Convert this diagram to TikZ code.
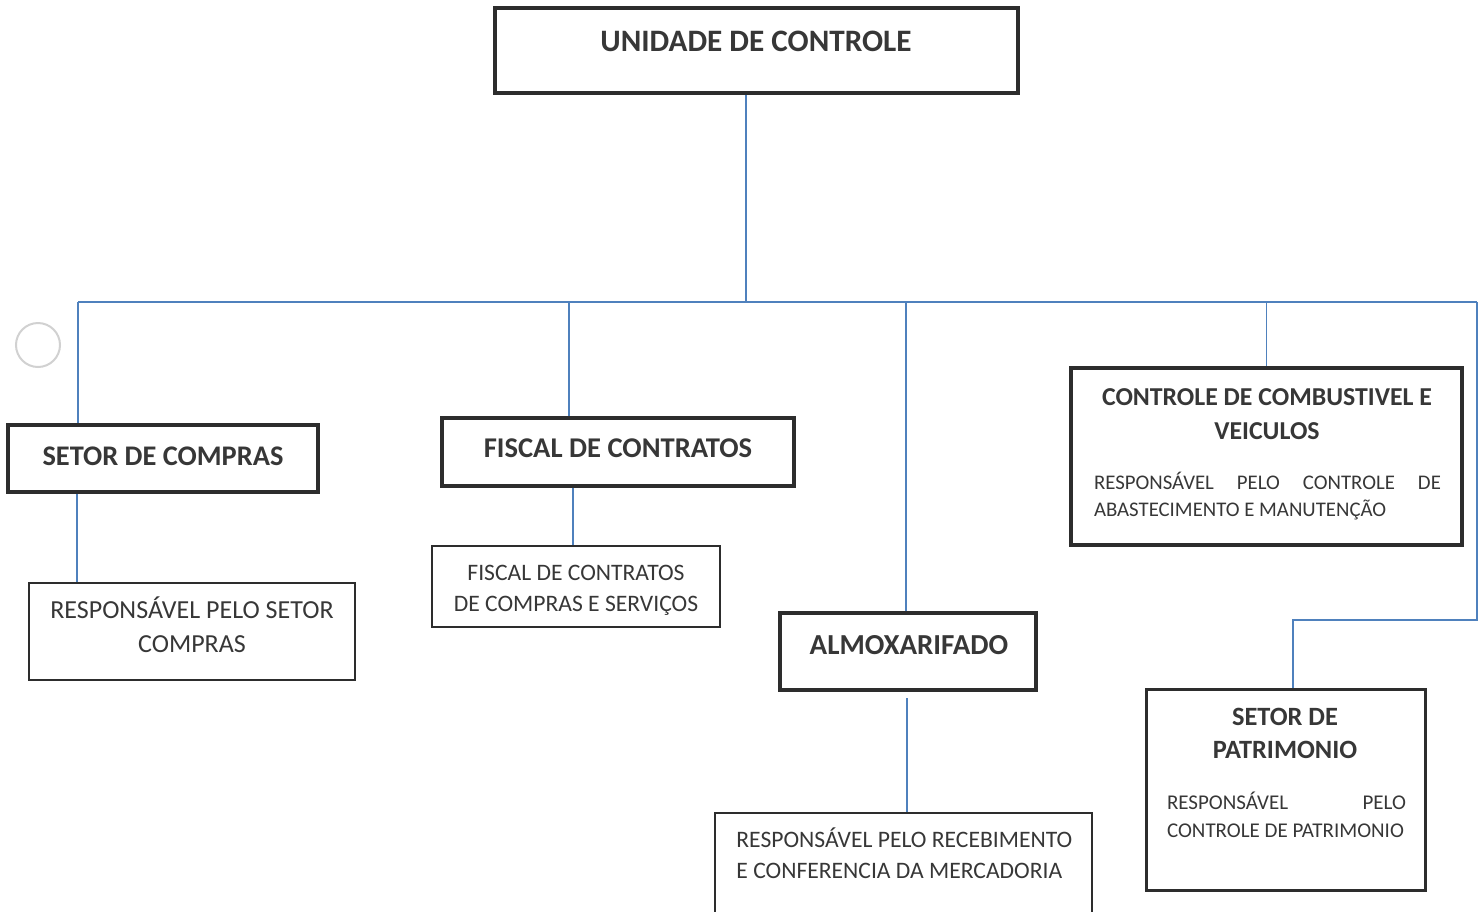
\documentclass[tikz,border=0pt]{standalone}
\usepackage{fontspec}
\setmainfont{Carlito}
\usetikzlibrary{fit}
\definecolor{linha}{RGB}{79,129,189}
\definecolor{borda}{RGB}{45,45,45}
\definecolor{texto}{RGB}{55,55,55}

\tikzset{
  caixa/.style={draw=borda, line width=1.8pt, inner sep=0pt},
  caixafina/.style={draw=borda, line width=1pt, inner sep=0pt},
  ligacao/.style={draw=linha, line width=0.75pt},
  titulo/.style={text=texto, font=\bfseries, align=center, inner sep=0pt},
  corpo/.style={text=texto, align=center, inner sep=0pt},
}

\begin{document}
\begin{tikzpicture}[x=0.5pt, y=-0.5pt]
        \useasboundingbox (0,0) rectangle (1478,911);

        % furo do papel
        \draw[black!18, line width=1pt] (38,345) circle (22);

        % caixas
        \node[caixa, fit={(495,8) (1018,93)}] (unid) {};
        \node[caixa, fit={(8,425) (318,492)}] (compras) {};
        \node[caixafina, fit={(29,583) (355,680)}] (comprasR) {};
        \node[caixa, fit={(442,418) (794,486)}] (fiscal) {};
        \node[caixafina, fit={(432,546) (720,627)}] (fiscalR) {};
        \node[caixa, fit={(780,613) (1036,690)}] (almox) {};
        \node[caixafina, fit={(715,813) (1092,925)}] (almoxR) {};
        \node[caixa, fit={(1071,368) (1462,545)}] (combust) {};
        \node[caixa, line width=1.5pt, fit={(1146,689) (1425,890)}] (patr) {};

        % textos
        \node[titulo, font=\bfseries\fontsize{15.6}{18}\selectfont] (unidT) at (756,41) {UNIDADE DE CONTROLE};
        \node[titulo, font=\bfseries\fontsize{14.2}{17}\selectfont] (comprasT) at (163,456) {SETOR DE COMPRAS};
        \node[corpo, font=\fontsize{13}{17}\selectfont] (comprasRT) at (192,625) {RESPONSÁVEL PELO SETOR\\COMPRAS};
        \node[titulo, font=\bfseries\fontsize{14.3}{17}\selectfont] (fiscalT) at (618,448) {FISCAL DE CONTRATOS};
        \node[corpo, font=\fontsize{11.8}{15.5}\selectfont] (fiscalRT) at (576,590.5) {FISCAL DE CONTRATOS\\DE COMPRAS E SERVIÇOS};
        \node[titulo, font=\bfseries\fontsize{14.5}{17}\selectfont] (almoxT) at (909,645) {ALMOXARIFADO};
        \node[corpo, align=left, anchor=west, font=\fontsize{11.8}{15.5}\selectfont] (almoxRT) at (736,853.5) {RESPONSÁVEL PELO RECEBIMENTO\\E CONFERENCIA DA MERCADORIA};
        \node[titulo, font=\bfseries\fontsize{12.9}{17}\selectfont] (combustT) at (1267,414) {CONTROLE DE COMBUSTIVEL E\\VEICULOS};
        \node[corpo, align=justify, text width=173.5pt, font=\fontsize{10.4}{13.5}\selectfont] (combustRT) at (1267.5,496.5) {RESPONSÁVEL PELO CONTROLE DE\linebreak ABASTECIMENTO E MANUTENÇÃO};
        \node[titulo, font=\bfseries\fontsize{13.2}{16.5}\selectfont] (patrT) at (1285,733.5) {SETOR DE\\PATRIMONIO};
        \node[corpo, align=justify, text width=119.5pt, font=\fontsize{10.5}{14}\selectfont] (patrRT) at (1286.5,815) {RESPONSÁVEL PELO\linebreak CONTROLE DE PATRIMONIO};

        % ligacoes
        \coordinate (topo) at (746,302);
        \coordinate (esq) at (78,302);
        \coordinate (dir) at (1477,302);
        \coordinate (dobra) at (1477,620);
        \coordinate (desvio) at (1293,620);

        \draw[ligacao] (topo |- unid.south) -- (topo);
        \draw[ligacao] (esq) -- (dir);
        \draw[ligacao] (esq) -- (esq |- compras.north);
        \draw[ligacao] (569,302) -- (569,0 |- fiscal.north);
        \draw[ligacao] (906,302) -- (906,0 |- almox.north);
        \draw[ligacao] (combust.north |- dir) -- (combust.north);
        \draw[ligacao] (dir) -- (dobra) -- (desvio) -- (desvio |- patr.north);

        \draw[ligacao] (77,0 |- compras.south) -- (77,0 |- comprasR.north);
        \draw[ligacao] (573,0 |- fiscal.south) -- (573,0 |- fiscalR.north);
        \draw[ligacao] (907,698) -- (907,0 |- almoxR.north);

\end{tikzpicture}
\end{document}
